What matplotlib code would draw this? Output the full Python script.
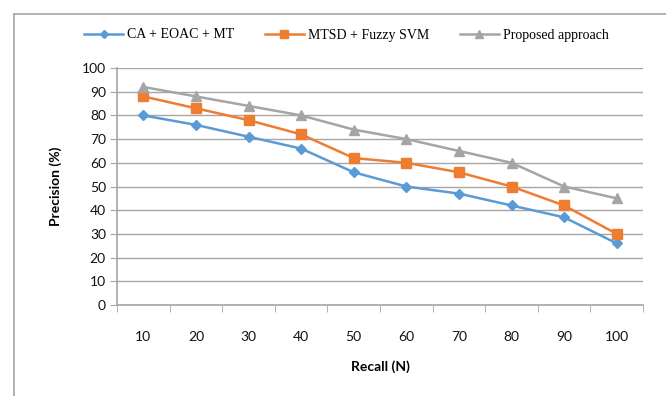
import matplotlib.pyplot as plt
import numpy as np
from matplotlib.lines import Line2D

recall = ['10', '20', '30', '40', '50', '60', '70', '80', '90', '100']
ca_eoac_mt = [80, 76, 71, 66, 56, 50, 47, 42, 37, 26]
mtsd_fuzzy = [88, 83, 78, 72, 62, 60, 56, 50, 42, 30]
proposed = [92, 88, 84, 80, 74, 70, 65, 60, 50, 45]

fig = plt.figure(figsize=(6.66, 3.96), dpi=100)
ax = fig.add_axes([117/666, 1-305/396, (643-117)/666, (305-68)/396])

# outer chart border
fig.add_artist(Line2D([14/666, 14/666], [0, 1-14/396], color='#a6a6a6', lw=1.2, transform=fig.transFigure))
fig.add_artist(Line2D([14/666, 1], [1-14/396, 1-14/396], color='#a6a6a6', lw=1.2, transform=fig.transFigure))

x = np.arange(len(recall))
ax.plot(x, ca_eoac_mt, color='#5b9bd5', lw=1.8, marker='D', ms=5.5, label='CA + EOAC + MT')
ax.plot(x, mtsd_fuzzy, color='#ed7d31', lw=1.8, marker='s', ms=7, label='MTSD + Fuzzy SVM')
ax.plot(x, proposed, color='#a5a5a5', lw=1.8, marker='^', ms=6.5, label='Proposed approach')

ax.set_xlim(-0.5, 9.5)
ax.set_ylim(0, 100)
ax.set_yticks(np.arange(0, 101, 10))
ax.yaxis.grid(True, color='#a6a6a6', lw=1)
ax.set_axisbelow(True)

ax.set_xticks(x)
ax.set_xticklabels(recall)
ax.set_xticks(np.arange(-0.5, 10, 1), minor=True)
ax.tick_params(axis='x', which='major', length=0, pad=19)
ax.tick_params(axis='x', which='minor', length=5, color='#a6a6a6', direction='out')
ax.tick_params(axis='y', length=5, color='#a6a6a6', pad=3)
for lab in ax.get_xticklabels() + ax.get_yticklabels():
    lab.set_fontsize(10)
    lab.set_family('Lato')
    lab.set_color('#111111')

for s in ['top', 'right']:
    ax.spines[s].set_visible(False)
for s in ['left', 'bottom']:
    ax.spines[s].set_color('#a6a6a6')
    ax.spines[s].set_linewidth(1.2)

ax.set_xlabel('Recall (N)', fontsize=10, fontweight='bold', family='Lato', labelpad=12)
ax.set_ylabel('Precision (%)', fontsize=10, fontweight='bold', family='Lato', labelpad=14)

fig.legend(loc='center', bbox_to_anchor=(0.52, 1-35/396), ncol=3, frameon=False,
           prop={'family': 'Liberation Serif', 'size': 10}, handlelength=2.8,
           columnspacing=2.2, handletextpad=0.3, markerscale=0.8)

fig.savefig('out.png', dpi=100)
